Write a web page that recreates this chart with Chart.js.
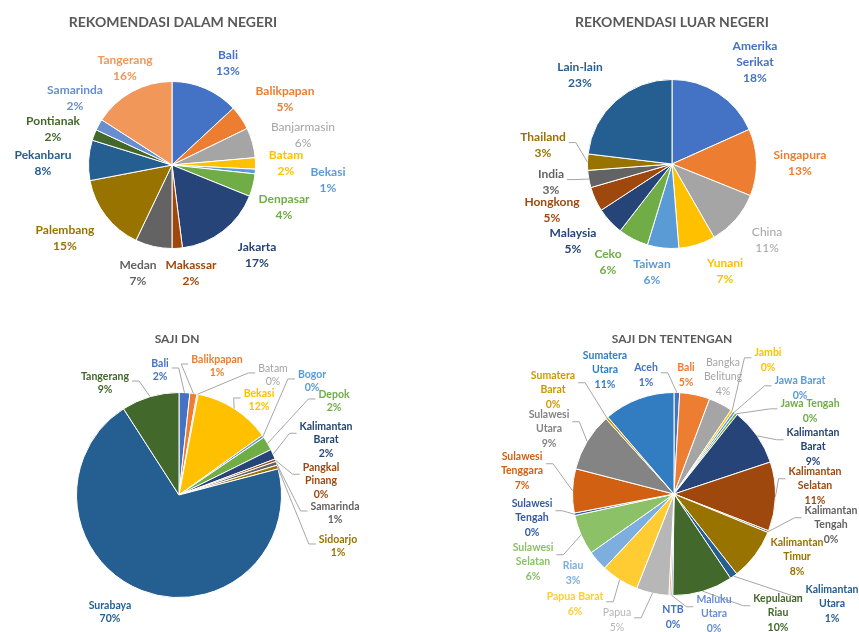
<!DOCTYPE html>
<html>
<head>
<meta charset="utf-8">
<script src="https://cdn.jsdelivr.net/npm/chart.js@4.4.1/dist/chart.umd.min.js"></script>
<style>
  html, body { margin: 0; padding: 0; background: #ffffff; }
  #wrap { position: relative; width: 859px; height: 632px; overflow: hidden; }
  .layer { position: absolute; left: 0; top: 0; width: 859px; height: 632px; }
</style>
</head>
<body>
<div id="wrap">
  <div class="layer"><canvas id="c1"></canvas></div>
  <div class="layer"><canvas id="c2"></canvas></div>
  <div class="layer"><canvas id="c3"></canvas></div>
  <div class="layer"><canvas id="c4"></canvas></div>
</div>
<script>
// ---------------- DATA ----------------
const titleDN = 'REKOMENDASI DALAM NEGERI';
const catDN = ['Bali', 'Balikpapan', 'Banjarmasin', 'Batam', 'Bekasi', 'Denpasar', 'Jakarta', 'Makassar', 'Medan', 'Palembang', 'Pekanbaru', 'Pontianak', 'Samarinda', 'Tangerang'];
const valDN = [13.1, 4.7, 5.8, 2.2, 0.9, 4.4, 16.9, 2.0, 7.1, 14.9, 7.8, 2.1, 2.2, 15.9];

const titleLN = 'REKOMENDASI LUAR NEGERI';
const catLN = ['Amerika\nSerikat', 'Singapura', 'China', 'Yunani', 'Taiwan', 'Ceko', 'Malaysia', 'Hongkong', 'India', 'Thailand', 'Lain-lain'];
const valLN = [18.3, 12.8, 10.6, 7.0, 6.0, 5.8, 5.3, 4.7, 3.3, 3.1, 23.1];

const titleSaji = 'SAJI DN';
const catSaji = ['Bali', 'Balikpapan', 'Batam', 'Bekasi', 'Bogor', 'Depok', 'Kalimantan\nBarat', 'Pangkal\nPinang', 'Samarinda', 'Sidoarjo', 'Surabaya', 'Tangerang'];
const valSaji = [1.7, 1.1, 0.2, 12.1, 0.4, 2.2, 1.6, 0.4, 0.6, 0.6, 70.0, 9.1];

const titleTent = 'SAJI DN TENTENGAN';
const catTent = ['Aceh', 'Bali', 'Bangka\nBelitung', 'Jambi', 'Jawa Barat', 'Jawa Tengah', 'Kalimantan\nBarat', 'Kalimantan\nSelatan', 'Kalimantan\nTengah', 'Kalimantan\nTimur', 'Kalimantan\nUtara', 'Kepulauan\nRiau', 'Maluku\nUtara', 'NTB', 'Papua', 'Papua Barat', 'Riau', 'Sulawesi\nSelatan', 'Sulawesi\nTengah', 'Sulawesi\nTenggara', 'Sulawesi\nUtara', 'Sumatera\nBarat', 'Sumatera\nUtara'];
const valTent = [0.9, 4.8, 3.8, 0.4, 0.4, 0.4, 9.2, 11.0, 0.3, 8.2, 1.2, 9.6, 0.3, 0.3, 5.2, 6.0, 3.2, 6.4, 0.4, 7.0, 9.3, 0.4, 11.3];

// ---------------- STYLE / LAYOUT ----------------
const palette = ['#4472C4', '#ED7D31', '#A5A5A5', '#FFC000', '#5B9BD5', '#70AD47',
  '#264478', '#9E480E', '#636363', '#997300', '#255E91', '#43682B',
  '#698ED0', '#F1975A', '#B7B7B7', '#FFCD33', '#7CAFDD', '#8CC168',
  '#335AA1', '#D26012', '#848484', '#CC9A00', '#327DC2'];
const lightLabelColors = ['#A5A5A5', '#B7B7B7'];

const FONT = 'Lato, "Open Sans", "DejaVu Sans", sans-serif';
const W = 859, H = 632;

// label anchor offsets (px) relative to pie centre, leader flags
const layoutDN = {
  cx: 172, cy: 165, r: 84, tx: 173, ty: 22, tSize: 14, fSize: 12, lh: 16,
  pos: [[56,-102],[113,-66],[131,-30],[114,-2],[156,15],[112,42],[85,90],[19,108],[-34,108],[-107,73],[-129,-2],[-119,-36],[-97,-67],[-47,-97]],
  leader: [],
  labelColors: {}
};
const layoutLN = {
  cx: 672, cy: 164, r: 85, tx: 672, ty: 22, tSize: 14, fSize: 12, lh: 16,
  pos: [[83,-102],[128,-1],[95,76],[53,107],[-20,108],[-64,98],[-99,77],[-120,46],[-121,18],[-129,-19],[-92,-89]],
  leader: [8, 9],
  labelColors: {}
};
const layoutSaji = {
  cx: 179, cy: 495, r: 103, tx: 177, ty: 339, tSize: 12, fSize: 10.5, lh: 13.5,
  pos: [[-19,-125],[38,-129],[94,-120],[80,-95],[133,-114],[155,-94],[147,-55],[142,-14],[156,18],[159,51],[-69,117],[-74,-112]],
  leader: [0,1,2,3,4,5,6,7,8,9,11],
  labelColors: {}
};
const layoutTent = {
  cx: 674, cy: 494, r: 102, tx: 672, ty: 339, tSize: 12, fSize: 10.5, lh: 14.5,
  pos: [[-28,-119],[12,-119],[49,-117],[94,-134],[126,-106],[136,-83],[139,-47],[141,-8],[157,31],[123,63],[158,110],[104,119],[40,120],[-1,123],[-57,126],[-99,110],[-101,79],[-141,68],[-142,24],[-152,-23],[-125,-65],[-121,-104],[-69,-124]],
  leader: [0,3,4,5,6,7,8,10,11,12,14,15,17,18,19,20,21],
  labelColors: { 13: '#4472C4' }
};

// ---------------- PLUGIN: titles + data labels ----------------
const pieLabels = {
  id: 'pieLabels',
  afterDatasetsDraw(chart, args, opts) {
    const L = opts.layout;
    const ctx = chart.ctx;
    const ds = chart.data.datasets[0];
    const meta = chart.getDatasetMeta(0);
    const total = ds.data.reduce((a, b) => a + b, 0);
    const cx = (chart.chartArea.left + chart.chartArea.right) / 2;
    const cy = (chart.chartArea.top + chart.chartArea.bottom) / 2;
    ctx.save();
    // title
    ctx.font = 'bold ' + L.tSize + 'px ' + FONT;
    ctx.fillStyle = '#595959';
    ctx.textAlign = 'center';
    ctx.textBaseline = 'middle';
    ctx.fillText(opts.title, L.tx, L.ty);

    meta.data.forEach((arc, i) => {
      const lines = chart.data.labels[i].split('\n');
      lines.push(Math.round(ds.data[i] * 100 / total) + '%');
      const lx = cx + L.pos[i][0];
      const ly = cy + L.pos[i][1];
      const color = L.labelColors[i] || ds.backgroundColor[i];
      const weight = lightLabelColors.indexOf(color) >= 0 ? 'normal' : 'bold';
      ctx.font = weight + ' ' + L.fSize + 'px ' + FONT;
      let w = 0;
      lines.forEach(t => { w = Math.max(w, ctx.measureText(t).width); });
      if (L.leader.indexOf(i) >= 0) {
        const p = arc.getProps(['x', 'y', 'startAngle', 'endAngle', 'outerRadius'], true);
        const a = (p.startAngle + p.endAngle) / 2;
        const px = p.x + Math.cos(a) * p.outerRadius;
        const py = p.y + Math.sin(a) * p.outerRadius;
        const left = px < lx;
        const ex = left ? lx - w / 2 - 3 : lx + w / 2 + 3;
        const ey = ly - (lines.length > 2 ? L.lh * 0.5 : L.lh * 0.15);
        const kx = left ? ex - 7 : ex + 7;
        ctx.strokeStyle = '#A6A6A6';
        ctx.lineWidth = 1;
        ctx.beginPath();
        ctx.moveTo(ex, ey);
        ctx.lineTo(kx, ey);
        ctx.lineTo(px, py);
        ctx.stroke();
      }
      ctx.fillStyle = color;
      const n = lines.length;
      lines.forEach((t, k) => {
        ctx.fillText(t, lx, ly + (k - (n - 1) / 2) * L.lh);
      });
    });
    ctx.restore();
  }
};

function makePie(id, title, cats, vals, L) {
  const colors = cats.map((c, i) => palette[i % palette.length]);
  return new Chart(document.getElementById(id), {
    type: 'pie',
    data: {
      labels: cats,
      datasets: [{
        data: vals,
        backgroundColor: colors,
        borderColor: '#ffffff',
        borderWidth: 1
      }]
    },
    options: {
      responsive: true,
      maintainAspectRatio: false,
      animation: false,
      events: [],
      layout: {
        padding: {
          left: L.cx - L.r,
          top: L.cy - L.r,
          right: W - L.cx - L.r,
          bottom: H - L.cy - L.r
        }
      },
      plugins: {
        legend: { display: false },
        tooltip: { enabled: false },
        title: { display: false },
        pieLabels: { title: title, layout: L }
      }
    },
    plugins: [pieLabels]
  });
}

makePie('c1', titleDN, catDN, valDN, layoutDN);
makePie('c2', titleLN, catLN, valLN, layoutLN);
makePie('c3', titleSaji, catSaji, valSaji, layoutSaji);
makePie('c4', titleTent, catTent, valTent, layoutTent);
</script>
</body>
</html>
